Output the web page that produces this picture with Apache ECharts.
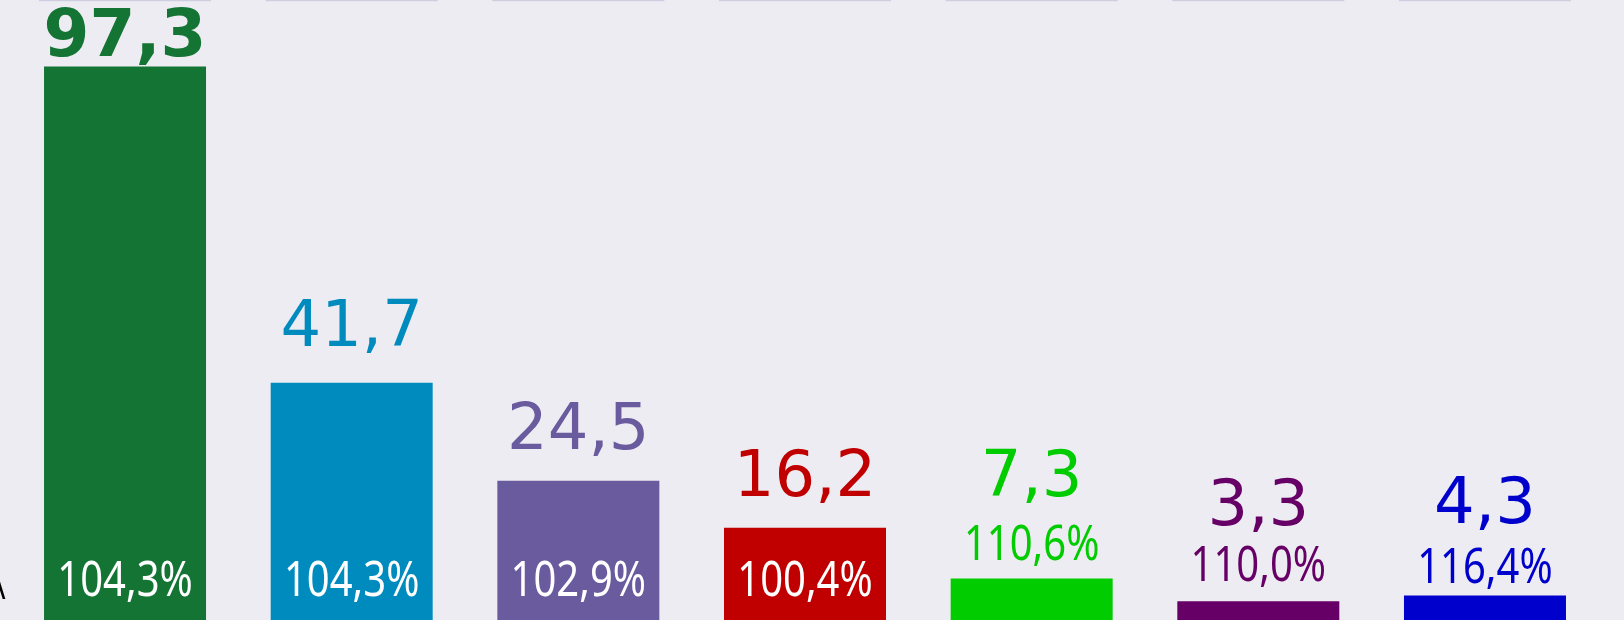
<!DOCTYPE html>
<html>
<head>
<meta charset="utf-8">
<script src="https://cdn.jsdelivr.net/npm/echarts@6/dist/echarts.min.js"></script>
<style>
html, body { margin: 0; padding: 0; background: #edecf2; overflow: hidden; }
#chart { width: 1624px; height: 620px; }
</style>
</head>
<body>
<div id="chart"></div>
<script>
// data
const categories = ['1', '2', '3', '4', '5', '6', '7'];
const values = [97.3, 41.7, 24.5, 16.2, 7.3, 3.3, 4.3];
const percents = [104.3, 104.3, 102.9, 100.4, 110.6, 110.0, 116.4];
const pctInside = [true, true, true, true, false, false, false];
const colors = ['#147434', '#008bbf', '#6a5a9e', '#c00000', '#00cc00', '#660066', '#0000cc'];

// label placement (px from the bar top to the text baseline)
const valueGap = [12, 38, 33, 33, 84, 77, 74];
const pctGap = [0, 0, 0, 0, 20, 21, 14];

const numFont = '"DejaVu Sans", sans-serif';
const pctFont = '"Noto Sans", "Open Sans", sans-serif';

const fmt = v => v.toFixed(1).replace('.', ',');

const chart = echarts.init(document.getElementById('chart'), null, { renderer: 'canvas' });

const labelItem = (params, api) => {
  const i = params.dataIndex;
  const top = api.coord([api.value(0), api.value(1)]);
  const base = api.coord([api.value(0), 0]);
  const cx = top[0];
  const numSize = i === 0 ? 66 : 64;
  const pctSize = 50;
  const numBase = top[1] - valueGap[i];
  const pctBase = pctInside[i] ? base[1] - 25 : top[1] - pctGap[i];
  return {
    type: 'group',
    children: [
      {
        type: 'text',
        x: cx,
        y: numBase - 0.24 * numSize,
        style: {
          text: fmt(values[i]),
          font: (i === 0 ? 'bold ' : '') + numSize + 'px ' + numFont,
          fill: colors[i],
          align: 'center',
          verticalAlign: 'middle'
        }
      },
      {
        type: 'text',
        x: cx,
        y: pctBase - 0.26 * pctSize,
        scaleX: 0.8,
        style: {
          text: fmt(percents[i]) + '%',
          font: pctSize + 'px ' + pctFont,
          fill: pctInside[i] ? '#ffffff' : colors[i],
          align: 'center',
          verticalAlign: 'middle'
        }
      }
    ]
  };
};

chart.setOption({
  backgroundColor: '#edecf2',
  animation: false,
  grid: { left: 11.7, right: 25.7, top: 0, height: 623.5 },
  xAxis: {
    type: 'category',
    data: categories,
    show: false
  },
  yAxis: {
    type: 'value',
    min: 0,
    max: 109,
    show: false
  },
  series: [
    {
      type: 'bar',
      barWidth: 162,
      data: values.map((v, i) => ({ value: v, itemStyle: { color: colors[i] } }))
    },
    {
      type: 'custom',
      silent: true,
      renderItem: labelItem,
      data: values.map((v, i) => [i, v]),
      z: 5
    }
  ]
});

// thin header rules above each column and the cut-off letter on the left
const rules = categories.map((c, i) => {
  const cx = chart.convertToPixel({ xAxisIndex: 0 }, i);
  return {
    type: 'line',
    silent: true,
    shape: { x1: cx - 86, y1: 0.5, x2: cx + 86, y2: 0.5 },
    style: { stroke: '#cfcde0', lineWidth: 1.5 }
  };
});

chart.setOption({
  graphic: rules.concat([
    {
      type: 'text',
      x: -13,
      y: 571,
      scaleX: 0.8,
      style: { text: 'A', font: '36px ' + pctFont, fill: '#000000' }
    }
  ])
});
</script>
</body>
</html>
